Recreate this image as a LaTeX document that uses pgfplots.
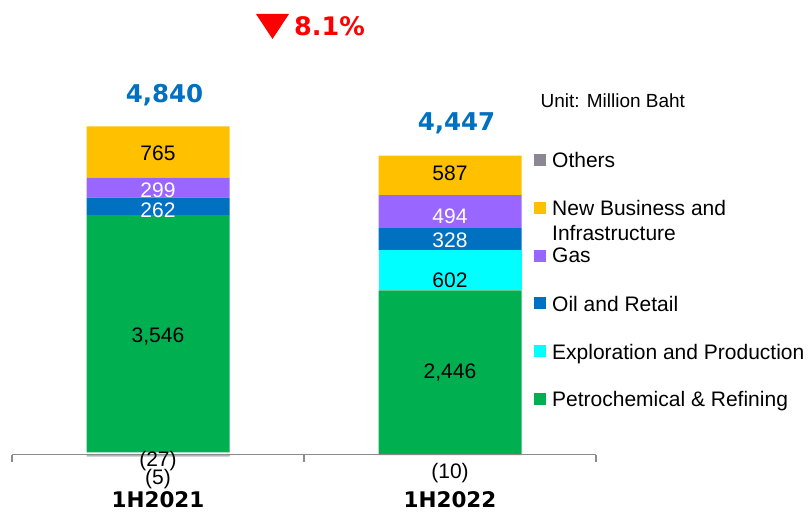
\documentclass[border=0pt]{standalone}
\usepackage{fontspec}
\setmainfont{Liberation Sans}
\newfontfamily\dvb{DejaVu Sans}
\usepackage{pgfplots}
\pgfplotsset{compat=1.18}
\usepackage{pgfplotstable}

\definecolor{cPR}{HTML}{00B050}
\definecolor{cEP}{HTML}{00FFFF}
\definecolor{cOR}{HTML}{0070C0}
\definecolor{cGas}{HTML}{9966FF}
\definecolor{cNB}{HTML}{FFC000}
\definecolor{cOth}{HTML}{8D8693}
\definecolor{cAx}{HTML}{8C8C8C}
\definecolor{cTot}{HTML}{0070C0}

% segment values (negative segments stacked first, then a compensating invisible segment)
\pgfplotstableread{
x PR EPpos EPneg Oth Comp OR Gas NB
0 3546 0 -27 -5 32 262 299 765
1 2446 602 0 -10 10 328 494 587
}\segs

\pgfplotstableread{
x y lab
0 4507 765
0 1764 {3,546}
0 -97 (27)
0 -366 (5)
1 4212 587
1 2598 602
1 1223 {2,446}
1 -277 (10)
}\blk

\pgfplotstableread{
x y lab
0 3954 299
0 3655 262
1 3555 494
1 3206 328
}\wht

\pgfplotstableread{
x y lab
0 5366 {4,840}
1 4948 {4,447}
}\tot

\pgfplotstableread{
x y lab
0 -680 1H2021
1 -680 1H2022
}\cats

\begin{document}
\begin{tikzpicture}
\path[use as bounding box] (0pt,0pt) rectangle (808pt,512pt);

\begin{axis}[
  at={(12pt,24pt)}, anchor=south west, scale only axis,
  width=584pt, height=381.3pt,
  xmin=-0.5, xmax=1.5, ymin=-500, ymax=5200,
  ybar stacked, bar width=143pt,
  axis x line=middle, axis y line=none,
  axis line style={-, draw=cAx, line width=1.5pt},
  xtick={-0.5,0.5,1.5}, xticklabels={}, ytick=\empty,
  xtick style={draw=cAx, line width=1.5pt},
  major tick length=7pt, tick align=outside,
  clip=false]
\addplot[fill=cEP, draw=none, forget plot] table[x=x,y=EPneg]{\segs};
\addplot[fill=cOth, draw=none] table[x=x,y=Oth]{\segs};
\addplot[fill=none, draw=none, forget plot] table[x=x,y=Comp]{\segs};
\addplot[fill=cPR, draw=none] table[x=x,y=PR]{\segs};
\addplot[fill=cEP, draw=none] table[x=x,y=EPpos]{\segs};
\addplot[fill=cOR, draw=none] table[x=x,y=OR]{\segs};
\addplot[fill=cGas, draw=none] table[x=x,y=Gas]{\segs};
\addplot[fill=cNB, draw=none] table[x=x,y=NB]{\segs};
\end{axis}

\begin{axis}[
  at={(12pt,24pt)}, anchor=south west, scale only axis,
  width=584pt, height=381.3pt,
  xmin=-0.5, xmax=1.5, ymin=-500, ymax=5200,
  hide axis, clip=false,
  nodes near coords, point meta=explicit symbolic,
  nodes near coords align={anchor=center}]
\addplot[draw=none, mark=none,
  every node near coord/.append style={anchor=center, text=black, font=\fontsize{21}{21}\selectfont}]
  table[x=x,y=y,meta=lab]{\blk};
\addplot[draw=none, mark=none,
  every node near coord/.append style={anchor=center, text=white, font=\fontsize{21}{21}\selectfont}]
  table[x=x,y=y,meta=lab]{\wht};
\addplot[draw=none, mark=none,
  every node near coord/.append style={anchor=center, xshift=6.5pt, text=cTot, font=\dvb\bfseries\fontsize{24.5}{24.5}\selectfont}]
  table[x=x,y=y,meta=lab]{\tot};
\addplot[draw=none, mark=none,
  every node near coord/.append style={anchor=center, text=black, font=\dvb\bfseries\fontsize{21.5}{21.5}\selectfont}]
  table[x=x,y=y,meta=lab]{\cats};
\end{axis}

% change annotation
\fill[red] (256pt,498pt) -- (289pt,498pt) -- (272.5pt,473pt) -- cycle;
\node[anchor=west, inner sep=0pt, text=red, font=\dvb\bfseries\fontsize{25.5}{25.5}\selectfont] at (294pt,486pt) {8.1\%};

% unit
\node[anchor=base west, inner sep=0pt, font=\fontsize{19}{19}\selectfont] at (540.5pt,404.7pt) {Unit: Million Baht};

% legend
\begin{scope}[every node/.style={anchor=base west, inner sep=0pt, font=\fontsize{21}{21}\selectfont}]
\fill[cOth] (534pt,345.5pt) rectangle (546pt,357.5pt);
\node at (552pt,344.3pt) {Others};
\fill[cNB] (534pt,297.7pt) rectangle (546pt,309.7pt);
\node at (552pt,296pt) {New Business and};
\node at (552pt,271pt) {Infrastructure};
\fill[cGas] (534pt,250pt) rectangle (546pt,262pt);
\node at (552pt,249.3pt) {Gas};
\fill[cOR] (534pt,203pt) rectangle (546pt,215pt);
\node at (552pt,201pt) {Oil and Retail};
\fill[cEP] (534pt,154.7pt) rectangle (546pt,166.7pt);
\node at (552pt,153pt) {Exploration and Production};
\fill[cPR] (534pt,107pt) rectangle (546pt,119pt);
\node at (552pt,105.3pt) {Petrochemical \& Refining};
\end{scope}
\end{tikzpicture}
\end{document}
